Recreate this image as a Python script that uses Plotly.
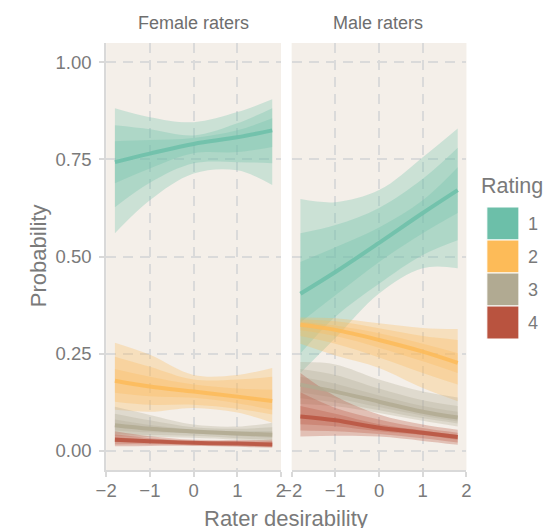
import plotly.graph_objects as go

# ---------------- data ----------------
x_vals = [-1.8, -1.0, 0.0, 1.0, 1.8]
ratings = ["1", "2", "3", "4"]
rating_colors = ["#6cbfa9", "#fdbb58", "#b1aa92", "#b9533f"]
panels = ["Female raters", "Male raters"]
x_ticks = [-2, -1, 0, 1, 2]
y_ticks = [0, 0.25, 0.5, 0.75, 1.0]

# Female raters: per rating (1..4)
female_line = [
    [0.743, 0.765, 0.790, 0.807, 0.825],
    [0.180, 0.165, 0.152, 0.139, 0.128],
    [0.065, 0.056, 0.049, 0.044, 0.041],
    [0.028, 0.024, 0.020, 0.018, 0.016],
]
female_hi95 = [
    [0.882, 0.859, 0.846, 0.872, 0.905],
    [0.278, 0.247, 0.195, 0.195, 0.213],
    [0.113, 0.092, 0.067, 0.062, 0.072],
    [0.050, 0.037, 0.028, 0.027, 0.028],
]
female_lo95 = [
    [0.560, 0.645, 0.714, 0.722, 0.684],
    [0.105, 0.100, 0.110, 0.098, 0.072],
    [0.037, 0.035, 0.033, 0.028, 0.022],
    [0.011, 0.012, 0.012, 0.010, 0.007],
]
female_hi80 = [
    [0.838, 0.828, 0.812, 0.843, 0.882],
    [0.242, 0.216, 0.183, 0.183, 0.190],
    [0.095, 0.078, 0.060, 0.056, 0.060],
    [0.042, 0.032, 0.025, 0.024, 0.024],
]
female_lo80 = [
    [0.627, 0.690, 0.740, 0.743, 0.740],
    [0.126, 0.118, 0.118, 0.108, 0.093],
    [0.043, 0.040, 0.038, 0.032, 0.027],
    [0.016, 0.016, 0.014, 0.012, 0.009],
]
female_hi50 = [
    [0.797, 0.800, 0.805, 0.825, 0.856],
    [0.210, 0.190, 0.170, 0.160, 0.157],
    [0.080, 0.066, 0.054, 0.050, 0.050],
    [0.035, 0.028, 0.023, 0.021, 0.020],
]
female_lo50 = [
    [0.689, 0.727, 0.766, 0.769, 0.782],
    [0.149, 0.140, 0.136, 0.122, 0.105],
    [0.052, 0.047, 0.044, 0.038, 0.033],
    [0.022, 0.020, 0.017, 0.015, 0.012],
]

# Male raters: per rating (1..4)
male_line = [
    [0.404, 0.460, 0.535, 0.612, 0.671],
    [0.324, 0.311, 0.285, 0.255, 0.226],
    [0.170, 0.152, 0.126, 0.100, 0.085],
    [0.088, 0.078, 0.059, 0.046, 0.035],
]
male_hi95 = [
    [0.648, 0.640, 0.671, 0.756, 0.830],
    [0.343, 0.341, 0.328, 0.316, 0.313],
    [0.228, 0.222, 0.183, 0.152, 0.137],
    [0.200, 0.140, 0.093, 0.067, 0.054],
]
male_lo95 = [
    [0.200, 0.290, 0.405, 0.470, 0.470],
    [0.275, 0.245, 0.213, 0.161, 0.127],
    [0.120, 0.114, 0.097, 0.077, 0.062],
    [0.036, 0.038, 0.036, 0.025, 0.015],
]
male_hi80 = [
    [0.560, 0.581, 0.625, 0.700, 0.780],
    [0.338, 0.333, 0.315, 0.295, 0.285],
    [0.210, 0.195, 0.160, 0.130, 0.115],
    [0.150, 0.110, 0.080, 0.058, 0.046],
]
male_lo80 = [
    [0.250, 0.345, 0.430, 0.504, 0.542],
    [0.295, 0.275, 0.240, 0.200, 0.170],
    [0.135, 0.124, 0.104, 0.083, 0.070],
    [0.052, 0.050, 0.043, 0.032, 0.021],
]
male_hi50 = [
    [0.486, 0.524, 0.575, 0.645, 0.730],
    [0.332, 0.322, 0.302, 0.275, 0.251],
    [0.190, 0.172, 0.142, 0.115, 0.100],
    [0.115, 0.095, 0.068, 0.052, 0.040],
]
male_lo50 = [
    [0.330, 0.400, 0.486, 0.560, 0.612],
    [0.310, 0.295, 0.265, 0.230, 0.200],
    [0.150, 0.135, 0.112, 0.090, 0.075],
    [0.068, 0.063, 0.050, 0.040, 0.028],
]

# ---------------- figure ----------------
W, H = 554, 528
FONT = "Liberation Sans, Arial, Helvetica, sans-serif"
TICK_COL = "#7a7a7a"
AX_COL = "#d9d9d9"
GRID_COL = "#dadada"
BG = "#f4efe9"
TICK_SIZE = 18.5


def hex_rgba(h, a):
    h = h.lstrip("#")
    return "rgba(%d,%d,%d,%.3f)" % (int(h[0:2], 16), int(h[2:4], 16), int(h[4:6], 16), a)


def px_x(p):
    return p / W


def px_y(p):
    return 1 - p / H


fig = go.Figure()

panel_data = [
    ("x", "y", female_line, [(female_lo95, female_hi95), (female_lo80, female_hi80), (female_lo50, female_hi50)]),
    ("x2", "y2", male_line, [(male_lo95, male_hi95), (male_lo80, male_hi80), (male_lo50, male_hi50)]),
]

for xa, ya, lines, bands in panel_data:
    for ri, col in enumerate(rating_colors):
        for lo, hi in bands:
            fig.add_trace(go.Scatter(
                x=x_vals, y=lo[ri], xaxis=xa, yaxis=ya, mode="lines",
                line=dict(width=0, shape="spline", color=col),
                showlegend=False, hoverinfo="skip"))
            fig.add_trace(go.Scatter(
                x=x_vals, y=hi[ri], xaxis=xa, yaxis=ya, mode="lines",
                line=dict(width=0, shape="spline", color=col),
                fill="tonexty", fillcolor=hex_rgba(col, 0.3),
                showlegend=False, hoverinfo="skip"))
    for ri, col in enumerate(rating_colors):
        fig.add_trace(go.Scatter(
            x=x_vals, y=lines[ri], xaxis=xa, yaxis=ya, mode="lines",
            line=dict(width=4, shape="spline", color=hex_rgba(col, 0.85)),
            name=ratings[ri], showlegend=False, hoverinfo="skip"))

xcommon = dict(
    range=[-2, 2], tickvals=x_ticks, showline=True, linecolor=AX_COL, linewidth=2,
    ticks="outside", ticklen=5, tickwidth=2, tickcolor=AX_COL,
    showgrid=True, gridcolor=GRID_COL, griddash="10px,7px", gridwidth=1.5,
    zeroline=False, tickfont=dict(size=TICK_SIZE, color=TICK_COL, family=FONT),
    ticklabelstandoff=-2, fixedrange=True,
)
ycommon = dict(
    range=[-0.05, 1.05], tickvals=y_ticks, tickformat=".2f",
    showgrid=True, gridcolor=GRID_COL, griddash="10px,7px", gridwidth=1.5,
    zeroline=False, tickfont=dict(size=TICK_SIZE, color=TICK_COL, family=FONT),
    domain=[1 - 470 / H, 1 - 43 / H], fixedrange=True,
)

fig.update_layout(
    width=W, height=H,
    margin=dict(l=0, r=0, t=0, b=0),
    paper_bgcolor="white", plot_bgcolor=BG,
    showlegend=False,
    font=dict(family=FONT, color=TICK_COL),
    xaxis=dict(domain=[98 / W, 278 / W], anchor="y", **xcommon),
    xaxis2=dict(domain=[289 / W, 469 / W], anchor="y2", **xcommon),
    yaxis=dict(anchor="x", showline=True, linecolor=AX_COL, linewidth=2,
               ticks="outside", ticklen=5, tickwidth=2, tickcolor=AX_COL,
               ticklabelstandoff=4, **ycommon),
    yaxis2=dict(anchor="x2", matches="y", showline=False, ticks="", showticklabels=False, **ycommon),
)

annotations = [
    dict(text=panels[0], x=px_x(188), y=px_y(23), font=dict(size=18, color="#6e6e6e")),
    dict(text=panels[1], x=px_x(378), y=px_y(23), font=dict(size=18, color="#6e6e6e")),
    dict(text="Probability", x=px_x(28), y=px_y(256), textangle=-90, font=dict(size=22, color=TICK_COL)),
    dict(text="Rater desirability", x=px_x(283), y=px_y(518), font=dict(size=22, color=TICK_COL)),
    dict(text="Rating", x=px_x(482), y=px_y(186), xanchor="left", font=dict(size=21.5, color=TICK_COL)),
]
key_tops = [207, 240, 273, 306]
shapes = []
for lab, col, top in zip(ratings, rating_colors, key_tops):
    shapes.append(dict(type="rect", xref="paper", yref="paper",
                       x0=px_x(490), x1=px_x(523), y0=px_y(top + 33), y1=px_y(top),
                       fillcolor=col, line=dict(color="white", width=1), layer="above"))
    annotations.append(dict(text=lab, x=px_x(538), y=px_y(top + 16.5),
                            font=dict(size=18, color=TICK_COL)))

for a in annotations:
    a.update(xref="paper", yref="paper", showarrow=False)
    a.setdefault("xanchor", "center")
    a.setdefault("yanchor", "middle")
    a["font"]["family"] = FONT

fig.update_layout(annotations=annotations, shapes=shapes)

fig.write_html("out.html")
